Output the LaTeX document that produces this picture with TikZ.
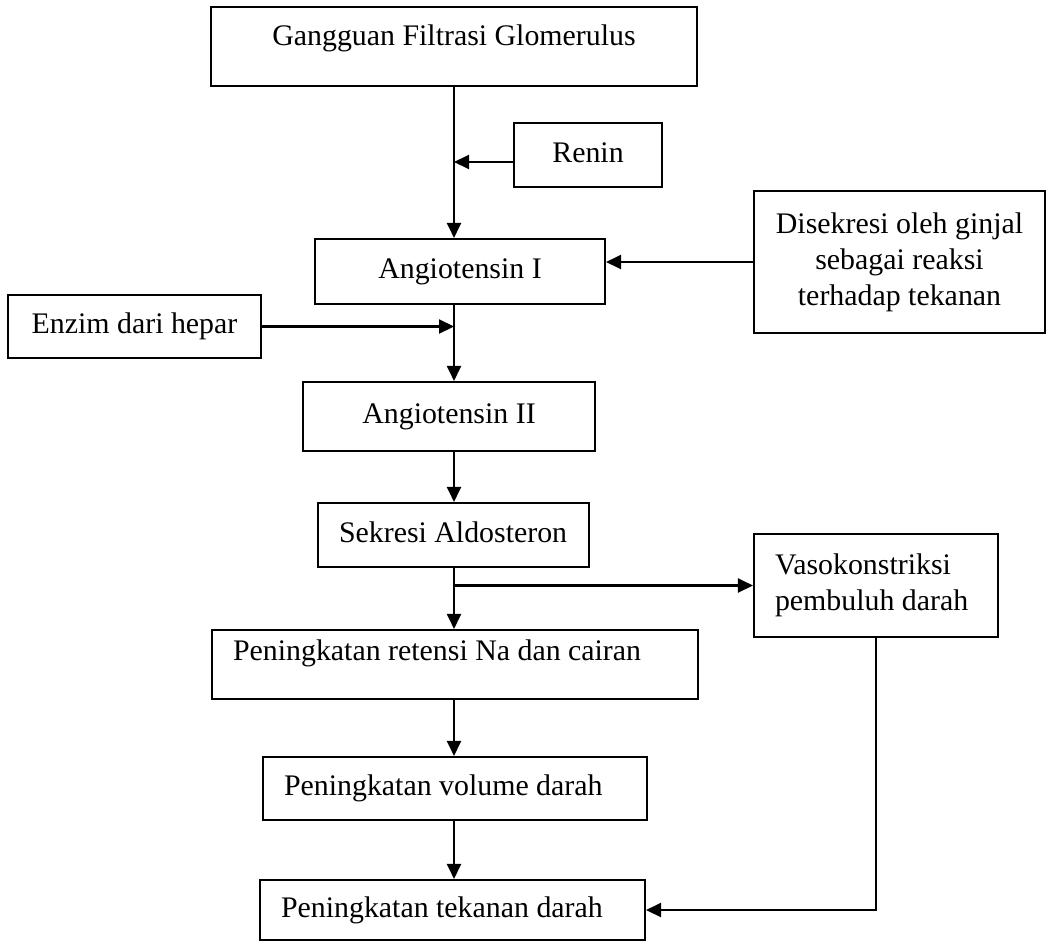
\documentclass[tikz,border=0pt]{standalone}
\usepackage{fontspec}
\setmainfont{Liberation Serif}
\usetikzlibrary{arrows.meta}

\begin{document}
\begin{tikzpicture}[
	x=0.02cm, y=-0.02cm,
	box/.style={
		rectangle,
		draw=black,
		line width=1.2pt,
		inner sep=2pt,
		align=center,
		font=\fontsize{17}{20.5}\selectfont
	},
	onerow/.style={box, text height=0.41cm, text depth=0.13cm},
	leftrow/.style={onerow, align=flush left, inner xsep=0.42cm},
	arrow/.style={-{Triangle[length=0.3cm,width=0.28cm]}, line width=1.2pt}
]
\useasboundingbox (0,0) rectangle (1053,943);

% Kotak atas
\node[onerow, text depth=0.47cm, minimum width=9.72cm, minimum height=1.58cm] (gfg) at (454,46.5) {Gangguan Filtrasi Glomerulus};
\node[onerow, minimum width=2.96cm, minimum height=1.28cm] (renin) at (588,155) {Renin};

% Angiotensin
\node[onerow, minimum width=5.8cm, minimum height=1.3cm] (angI) at (460,271.5) {Angiotensin I};
\node[box, minimum width=5.82cm, minimum height=2.84cm] (ginjal) at (899.5,262) {Disekresi oleh ginjal\\ sebagai reaksi\\ terhadap tekanan};
\node[onerow, minimum width=5.06cm, minimum height=1.26cm] (enzim) at (134.5,326.5) {Enzim dari hepar};
\node[onerow, minimum width=5.84cm, minimum height=1.38cm] (angII) at (449,416.5) {Angiotensin II};

% Aldosteron dan vasokonstriksi
\node[leftrow, text width=4.58cm, minimum height=1.28cm] (aldo) at (453.5,535) {Sekresi Aldosteron};
\node[box, align=flush left, inner xsep=0.42cm, text width=4.04cm, minimum height=2.06cm] (vaso) at (876,585.5) {Vasokonstriksi\\ pembuluh darah};

% Peningkatan
\node[leftrow, text depth=0.59cm, text width=8.88cm, minimum height=1.38cm] (retensi) at (455,664.5) {Peningkatan retensi Na dan cairan};
\node[leftrow, text width=6.84cm, minimum height=1.26cm] (volume) at (455,788.5) {Peningkatan volume darah};
\node[leftrow, text width=6.86cm, minimum height=1.2cm] (tekanan) at (452.5,910) {Peningkatan tekanan darah};

% Panah
\draw[arrow] (gfg.south) -- (gfg.south |- angI.north);
\draw[arrow] ([yshift=-0.14cm]renin.west) -- ([yshift=-0.14cm]renin.west -| gfg.south);
\draw[arrow] (ginjal.west) -- (ginjal.west -| angI.east);
\draw[arrow] (angI.south -| gfg.south) -- (angII.north -| gfg.south);
\draw[arrow] (enzim.east) -- (enzim.east -| gfg.south);
\draw[arrow] (angII.south -| gfg.south) -- (aldo.north -| gfg.south);
\draw[arrow] (aldo.south -| gfg.south) -- (retensi.north -| gfg.south);
\draw[arrow] (vaso.west -| gfg.south) -- (vaso.west);
\draw[arrow] (retensi.south -| gfg.south) -- (volume.north -| gfg.south);
\draw[arrow] (volume.south -| gfg.south) -- (tekanan.north -| gfg.south);
\draw[arrow] (vaso.south) |- (tekanan.east);

\end{tikzpicture}
\end{document}
